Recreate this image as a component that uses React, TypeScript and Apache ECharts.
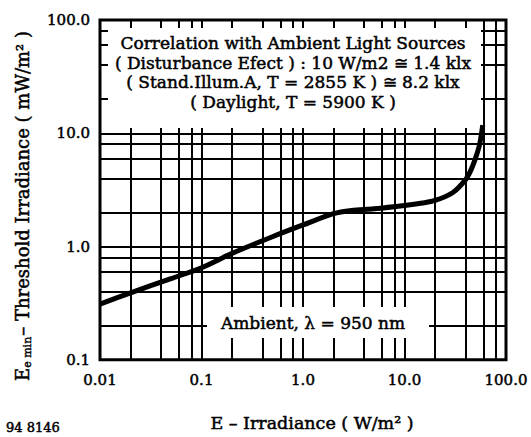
import React, { useEffect, useRef } from "react";
import * as echarts from "echarts";

// ---- data ----
const xTickLabels = ["0.01", "0.1", "1.0", "10.0", "100.0"];
const yTickLabels = ["0.1", "1.0", "10.0", "100.0"];
const gridX = [0.02, 0.04, 0.06, 0.08, 0.1, 0.2, 0.4, 0.6, 0.8, 1, 2, 4, 6, 8, 10, 20, 40, 60, 80];
const gridY = [0.2, 0.4, 0.6, 0.8, 1, 2, 4, 6, 8, 10, 20, 40, 60, 80];
const irradiance = [0.01, 0.02, 0.05, 0.1, 0.2, 0.5, 1, 2, 3, 5, 10, 15, 20, 30, 40, 45, 50, 55, 59];
const threshold = [0.31, 0.39, 0.52, 0.65, 0.87, 1.22, 1.55, 1.95, 2.08, 2.15, 2.3, 2.42, 2.55, 3.0, 3.9, 4.7, 6.0, 8.0, 11.8];
const infoLines = [
  "Correlation with Ambient Light Sources",
  "( Disturbance Efect ) : 10 W/m2 \u2245 1.4 klx",
  "( Stand.Illum.A, T = 2855 K ) \u2245 8.2 klx",
  "( Daylight, T = 5900 K )",
];
const ambientLabel = "Ambient, \u03bb = 950 nm";
const xAxisTitle = "E \u2013 Irradiance ( W/m\u00b2 )";
const yAxisTitleMain = "E";
const yAxisTitleSub = "e min";
const yAxisTitleRest = "\u2013 Threshold Irradiance ( mW/m\u00b2 )";
const figureId = "94 8146";

const FONT = "'DejaVu Serif', 'Liberation Serif', serif";
const BOLDEN = { textBorderColor: "#000", textBorderWidth: 0.5 };

export default function App() {
  const ref = useRef<HTMLDivElement>(null);
  useEffect(() => {
    document.body.style.margin = "0";
    const chart = echarts.init(ref.current!, null, { renderer: "svg" });
    const gl = { left: 100, top: 20, width: 406, height: 350 };
    const lineData = [
      ...gridX.map((v) => ({ xAxis: v })),
      ...gridY.map((v) => ({ yAxis: v })),
    ];
    chart.setOption({
      animation: false,
      backgroundColor: "#fff",
      grid: { ...gl, show: true, borderColor: "#000", borderWidth: 3, backgroundColor: "transparent", z: 1 },
      xAxis: {
        type: "log",
        logBase: 10,
        min: 0.01,
        max: 100,
        axisLine: { show: false },
        axisTick: { show: false },
        splitLine: { show: false },
        axisLabel: {
          margin: 13,
          fontFamily: FONT,
          fontSize: 15,
          color: "#000",
          ...BOLDEN,
          formatter: (v: number) => xTickLabels[Math.round(Math.log10(v)) + 2] ?? "",
        },
        name: xAxisTitle,
        nameLocation: "middle",
        nameGap: 54,
        nameTextStyle: { fontFamily: FONT, fontSize: 17.5, color: "#000", padding: [0, 0, 0, 18], ...BOLDEN },
      },
      yAxis: {
        type: "log",
        logBase: 10,
        min: 0.1,
        max: 100,
        axisLine: { show: false },
        axisTick: { show: false },
        splitLine: { show: false },
        axisLabel: {
          margin: 10,
          fontFamily: FONT,
          fontSize: 15,
          color: "#000",
          padding: [0, 0, 8, 0],
          ...BOLDEN,
          formatter: (v: number) => yTickLabels[Math.round(Math.log10(v)) + 1] ?? "",
        },
      },
      graphic: [
        { type: "rect", z: 10, shape: { x: 108, y: 28, width: 373, height: 100 }, style: { fill: "#fff" } },
        { type: "rect", z: 10, shape: { x: 207, y: 307, width: 222, height: 31 }, style: { fill: "#fff" } },
        ...infoLines.map((t, i) => ({
          type: "text",
          z: 11,
          x: 293,
          y: 43 + i * 19.5,
          style: { text: t, fontFamily: FONT, fontSize: 17, fill: "#000", align: "center", verticalAlign: "middle", stroke: "#000", lineWidth: 0.5 },
        })),
        {
          type: "text",
          z: 11,
          x: 313,
          y: 323,
          style: { text: ambientLabel, fontFamily: FONT, fontSize: 17, fill: "#000", align: "center", verticalAlign: "middle", stroke: "#000", lineWidth: 0.5 },
        },
        {
          type: "text",
          z: 11,
          x: 6,
          y: 427,
          style: { text: figureId, fontFamily: FONT, fontSize: 13, fill: "#000", align: "left", verticalAlign: "middle", stroke: "#000", lineWidth: 0.5 },
        },
        {
          type: "text",
          z: 11,
          x: 22,
          y: 206,
          rotation: Math.PI / 2,
          style: {
            text: `{b|${yAxisTitleMain}}{s|${yAxisTitleSub}}{b|${yAxisTitleRest}}`,
            align: "center",
            verticalAlign: "middle",
            rich: {
              b: { fontFamily: FONT, fontSize: 18, fill: "#000", lineHeight: 18, stroke: "#000", lineWidth: 0.5 },
              s: { fontFamily: FONT, fontSize: 11, fill: "#000", lineHeight: 11, padding: [10, 1, 0, 0], stroke: "#000", lineWidth: 0.4 },
            },
          },
        },
      ],
      series: [
        {
          type: "line",
          z: 2,
          data: [],
          silent: true,
          markLine: {
            z: 2,
            silent: true,
            symbol: ["none", "none"],
            label: { show: false },
            lineStyle: { color: "#000", width: 2, type: "solid" },
            emphasis: { disabled: true },
            data: lineData,
          },
        },
        {
          type: "line",
          z: 12,
          data: irradiance.map((x, i) => [x, threshold[i]]),
          showSymbol: false,
          symbol: "none",
          smooth: 0.3,
          lineStyle: { color: "#000", width: 5 },
        },
      ],
    });
    return () => chart.dispose();
  }, []);
  return <div ref={ref} style={{ width: 531, height: 437 }} />;
}
